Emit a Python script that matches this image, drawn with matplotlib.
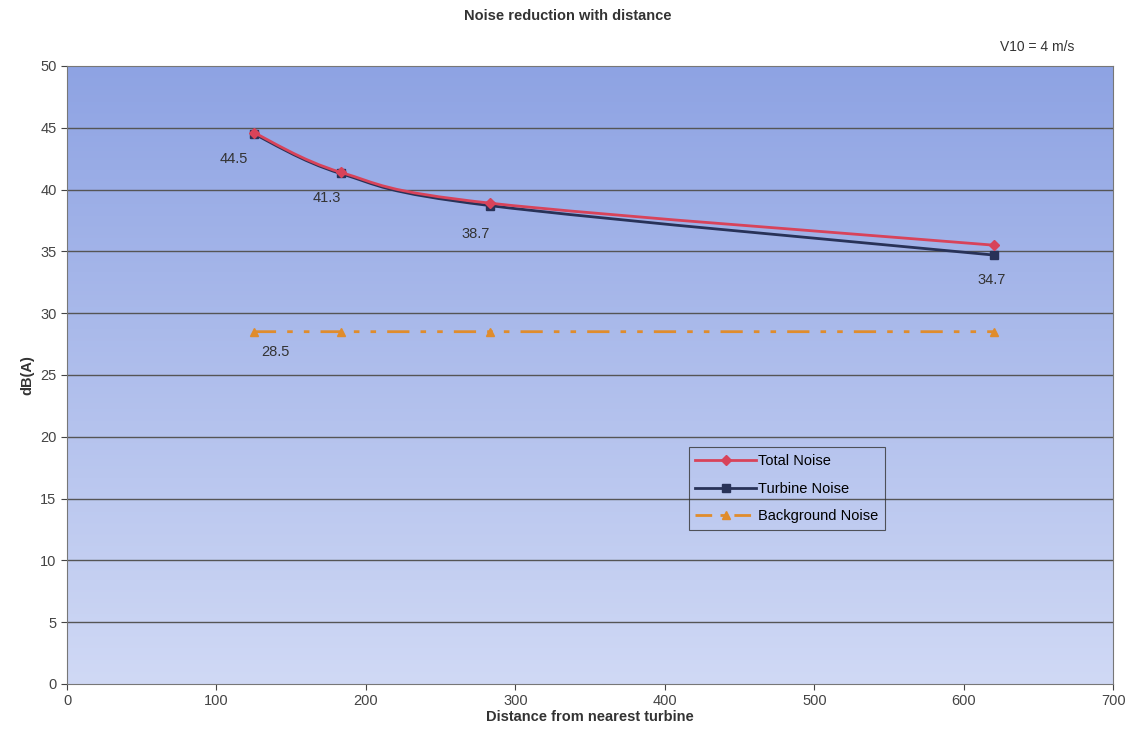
import numpy as np
import matplotlib.pyplot as plt
from matplotlib.colors import LinearSegmentedColormap
from matplotlib.path import Path
from matplotlib.patches import PathPatch
from matplotlib.lines import Line2D

plt.rcParams['font.family'] = ['Liberation Sans', 'DejaVu Sans']

distance = [125, 183, 283, 620]
total_noise = [44.6, 41.4, 38.9, 35.5]
turbine_noise = [44.5, 41.3, 38.7, 34.7]
background_noise = [28.5, 28.5, 28.5, 28.5]

turbine_labels = ['44.5', '41.3', '38.7', '34.7']
label_offsets = [(-20, -25), (-14, -25), (-14, -28), (-2, -25)]


def smooth_path(xs, ys):
    # Excel-style smoothed line: cubic bezier through the data points
    p = np.column_stack([xs, ys]).astype(float)
    n = len(p)
    verts = [p[0]]
    codes = [Path.MOVETO]
    for i in range(n - 1):
        p0 = p[i - 1] if i > 0 else p[i]
        p3 = p[i + 2] if i + 2 < n else p[i + 1]
        c1 = p[i] + (p[i + 1] - p0) / 6
        c2 = p[i + 1] - (p3 - p[i]) / 6
        verts += [c1, c2, p[i + 1]]
        codes += [Path.CURVE4] * 3
    return Path(verts, codes)


fig = plt.figure(figsize=(11.36, 7.41), dpi=100)
ax = fig.add_axes([0.059, 0.077, 0.921, 0.834])

# gradient background, darker blue at top
cmap = LinearSegmentedColormap.from_list('bg', ['#d0d9f5', '#8ea3e3'])
grad = np.linspace(0, 1, 256).reshape(-1, 1)
ax.imshow(grad, extent=[0, 700, 0, 50], aspect='auto', origin='lower',
          cmap=cmap, zorder=0)

for yv in range(5, 50, 5):
    ax.axhline(yv, color='#555555', lw=1.0, zorder=1)

series = [
    (total_noise, '#d8435a', 'D', 5, None, 'Total Noise', 4),
    (turbine_noise, '#283258', 's', 6, None, 'Turbine Noise', 3),
    (background_noise, '#e08c2c', '^', 6, [8, 4, 2, 4, 2, 4], 'Background Noise', 3),
]
handles = []
for ys, col, mk, ms, dsh, lab, z in series:
    patch = PathPatch(smooth_path(distance, ys), fill=False, edgecolor=col,
                      lw=2, zorder=z)
    if dsh:
        patch.set_linestyle((0, dsh))
    ax.add_patch(patch)
    ax.plot(distance, ys, ls='none', marker=mk, ms=ms, color=col, zorder=z)
    h = Line2D([], [], color=col, lw=2, marker=mk, ms=ms)
    if dsh:
        h.set_dashes([6, 3, 2, 3])
    handles.append((h, lab))

for x, y, t, off in zip(distance, turbine_noise, turbine_labels, label_offsets):
    ax.annotate(t, (x, y), xytext=off, textcoords='offset pixels',
                ha='center', va='center', fontsize=10.5, color='#333333')
ax.annotate('28.5', (distance[0], background_noise[0]), xytext=(22, -20),
            textcoords='offset pixels', ha='center', va='center',
            fontsize=10.5, color='#333333')

ax.set_xlim(0, 700)
ax.set_ylim(0, 50)
ax.set_xticks(range(0, 701, 100))
ax.set_yticks(range(0, 51, 5))
ax.tick_params(labelsize=10.5, colors='#444444', length=4)
for s in ax.spines.values():
    s.set_color('#777777')

ax.set_xlabel('Distance from nearest turbine', fontsize=10.5, fontweight='bold',
              labelpad=1, color='#333333')
ax.set_ylabel('dB(A)', fontsize=10.5, fontweight='bold', color='#333333')
fig.text(0.5, 0.978, 'Noise reduction with distance', ha='center', va='center',
         fontsize=10.5, fontweight='bold', color='#333333')
fig.text(0.946, 0.937, 'V10 = 4 m/s', ha='right', va='center', fontsize=10,
         color='#333333')

leg = ax.legend([h for h, _ in handles], [l for _, l in handles],
                loc='lower left', bbox_to_anchor=(0.594, 0.249), fontsize=10.5,
                frameon=True, fancybox=False, edgecolor='#333333',
                facecolor='none', handlelength=4.2, handletextpad=0.1,
                borderpad=0.45, labelspacing=0.95, borderaxespad=0)
leg.get_frame().set_linewidth(0.8)

fig.savefig('out.png', dpi=100)
